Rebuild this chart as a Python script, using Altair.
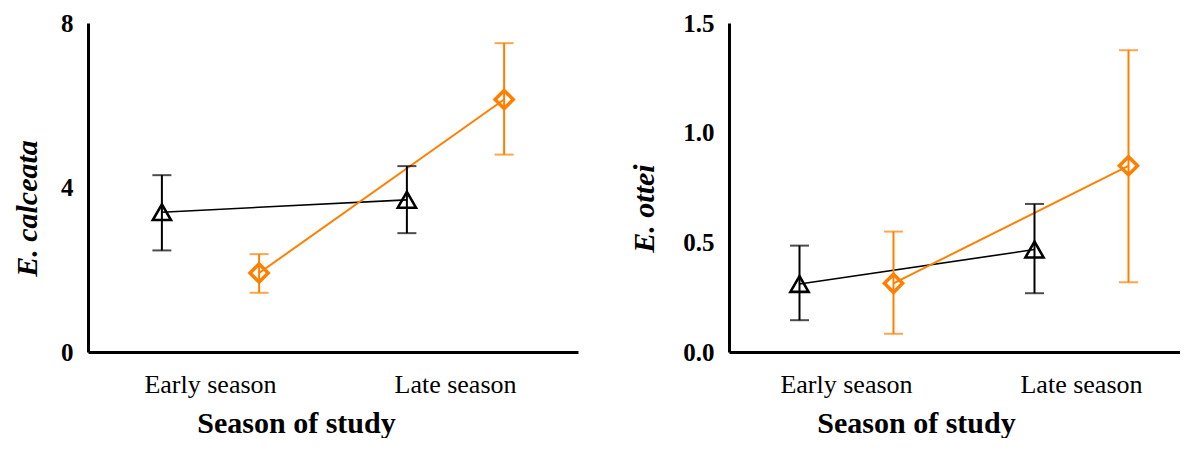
import altair as alt
import pandas as pd

seasons = ["Early season", "Late season"]
groups = ["Group A", "Group B"]          # black triangles, orange diamonds
group_colors = ["#000000", "#FF8000"]
group_shapes = ["triangle-up", "diamond"]

# E. calceata (left panel)
calc_mean_a = [3.40, 3.70]
calc_lo_a = [2.47, 2.89]
calc_hi_a = [4.30, 4.52]
calc_mean_b = [1.92, 6.14]
calc_lo_b = [1.44, 4.80]
calc_hi_b = [2.38, 7.51]

# E. ottei (right panel)
ott_mean_a = [0.31, 0.467]
ott_lo_a = [0.145, 0.268]
ott_hi_a = [0.485, 0.675]
ott_mean_b = [0.313, 0.849]
ott_lo_b = [0.083, 0.318]
ott_hi_b = [0.549, 1.376]

calc_ticks = [0, 4, 8]
ott_ticks = [0.0, 0.5, 1.0, 1.5]

FONT = "Liberation Serif"


def make_df(ma, la, ha, mb, lb, hb):
    rows = []
    for i, s in enumerate(seasons):
        rows.append(dict(season=s, group=groups[0], mean=ma[i], lo=la[i], hi=ha[i]))
    for i, s in enumerate(seasons):
        rows.append(dict(season=s, group=groups[1], mean=mb[i], lo=lb[i], hi=hb[i]))
    return pd.DataFrame(rows)


def panel(df, ytitle, ydomain, yticks, yfmt, width, xband, offpad,
          ytitle_x, xtitle_x):
    height = 329
    xaxis = alt.Axis(labelAngle=0, labelFont=FONT, labelFontSize=26, labelColor="black",
                     labelPadding=19, ticks=False,
                     domainColor="black", domainWidth=3,
                     title="Season of study", titleFont=FONT, titleFontSize=30,
                     titleFontWeight="bold", titleColor="black",
                     titleX=xtitle_x, titleY=80, titleBaseline="alphabetic",
                     titleAlign="center")
    yaxis = alt.Axis(values=yticks, format=yfmt, labelFont=FONT, labelFontSize=25,
                     labelFontWeight="bold", labelColor="black", labelPadding=15,
                     ticks=False, grid=False, domainColor="black", domainWidth=3,
                     title=ytitle, titleFont=FONT, titleFontSize=30,
                     titleFontWeight="bold", titleFontStyle="italic", titleColor="black",
                     titleX=ytitle_x, titleY=185, titleBaseline="alphabetic",
                     titleAngle=-90, titleAlign="center")
    pin, pout, align = xband
    xscale = alt.Scale(type="band", domain=seasons, paddingInner=pin,
                       paddingOuter=pout, align=align)
    base = alt.Chart(df).encode(
        x=alt.X("season:N", sort=seasons, scale=xscale, axis=xaxis),
        xOffset=alt.XOffset("group:N", scale=alt.Scale(domain=groups, paddingOuter=offpad,
                                                       paddingInner=0)),
        color=alt.Color("group:N", scale=alt.Scale(domain=groups, range=group_colors),
                        legend=None),
    )
    yscale = alt.Scale(domain=ydomain, nice=False, zero=True)
    lines = base.mark_line().encode(
        y=alt.Y("mean:Q", scale=yscale, axis=yaxis),
        strokeWidth=alt.StrokeWidth("group:N", scale=alt.Scale(domain=groups, range=[1.6, 2.0]),
                                    legend=None),
    )
    bars = base.mark_rule(strokeWidth=2).encode(
        y=alt.Y("lo:Q", scale=yscale), y2="hi:Q")
    cap_lo = base.mark_tick(thickness=2, size=19).encode(y=alt.Y("lo:Q", scale=yscale))
    cap_hi = base.mark_tick(thickness=2, size=19).encode(y=alt.Y("hi:Q", scale=yscale))
    pts = base.mark_point(filled=False, size=330, opacity=1).encode(
        y=alt.Y("mean:Q", scale=yscale),
        shape=alt.Shape("group:N", scale=alt.Scale(domain=groups, range=group_shapes),
                        legend=None),
        strokeWidth=alt.StrokeWidth("group:N", scale=alt.Scale(domain=groups, range=[2.6, 3.5]),
                                    legend=None),
    )
    return alt.layer(lines, bars, cap_lo, cap_hi, pts).resolve_scale(
        strokeWidth="independent").properties(width=width, height=height)


df_calc = make_df(calc_mean_a, calc_lo_a, calc_hi_a, calc_mean_b, calc_lo_b, calc_hi_b)
df_ott = make_df(ott_mean_a, ott_lo_a, ott_hi_a, ott_mean_b, ott_lo_b, ott_hi_b)

left = panel(df_calc, "E. calceata", [0, 8], calc_ticks, "d", 490, (0, 0, 0.5), 0.26,
             -52, 208)
right = panel(df_ott, "E. ottei", [0, 1.5], ott_ticks, ".1f", 451, (0.2, 0.0596, 0.839), 0.0,
              -76, 187)

chart = alt.hconcat(left, right, spacing=51).resolve_scale(
    xOffset="independent"
).properties(
    padding={"left": 4, "top": 3, "right": 0, "bottom": 0}
).configure(font=FONT).configure_view(stroke="transparent", strokeWidth=0)

chart.save("out.html", embed_options={"renderer": "svg", "actions": False})
